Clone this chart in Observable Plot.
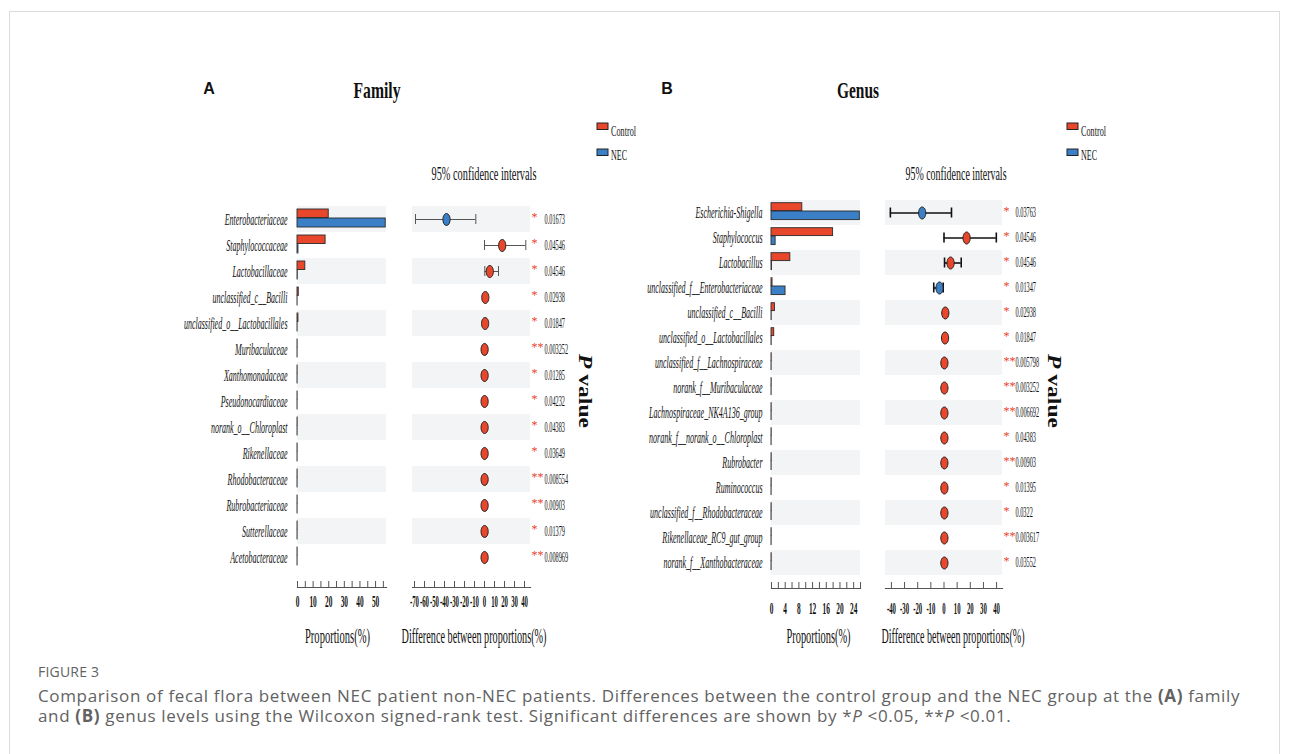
<!DOCTYPE html>
<html><head><meta charset="utf-8">
<script src="https://cdn.jsdelivr.net/npm/d3@7"></script>
<script src="https://cdn.jsdelivr.net/npm/@observablehq/plot@0.6"></script>
<style>
body{margin:0;background:#fff;}
#page{position:relative;width:1290px;height:754px;overflow:hidden;background:#fff;}
#frame{position:absolute;left:9px;top:11px;width:1271px;height:800px;border:1px solid #dcdcdc;box-sizing:border-box;}
.plot{position:absolute;}
.plot svg{overflow:visible;}
#overlay{position:absolute;left:0;top:0;overflow:visible;}
.cap{position:absolute;left:38px;font-family:"Open Sans";color:#626262;white-space:nowrap;}
</style></head><body>
<div id="page">
<div id="frame"></div>
<div id="pA1" class="plot" style="left:180px;top:190px"></div>
<div id="pA2" class="plot" style="left:400px;top:190px"></div>
<div id="pB1" class="plot" style="left:650px;top:180px"></div>
<div id="pB2" class="plot" style="left:875px;top:180px"></div>
<svg id="overlay" width="1290" height="754"></svg>
<div class="cap" style="top:662px;font-size:14px;line-height:20px;letter-spacing:0.2px;">FIGURE 3</div>
<div class="cap" style="top:686px;font-size:17px;line-height:20px;letter-spacing:0.65px;">Comparison of fecal flora between NEC patient non-NEC patients. Differences between the control group and the NEC group at the <b>(A)</b> family<br>and <b>(B)</b> genus levels using the Wilcoxon signed-rank test. Significant differences are shown by *<i>P</i> &lt;0.05, **<i>P</i> &lt;0.01.</div>
</div>
<script>
// ---------------- DATA ----------------
const famNames = ["Enterobacteriaceae","Staphylococcaceae","Lactobacillaceae","unclassified_c__Bacilli","unclassified_o__Lactobacillales","Muribaculaceae","Xanthomonadaceae","Pseudonocardiaceae","norank_o__Chloroplast","Rikenellaceae","Rhodobacteraceae","Rubrobacteriaceae","Sutterellaceae","Acetobacteraceae"];
const famControl = [20, 18, 5, 0.8, 0.6, 0.08, 0.08, 0.08, 0.1, 0.08, 0.08, 0.08, 0.08, 0.08];
const famNEC     = [56.5, 0.6, 0.15, 0.05, 0.05, 0.05, 0.05, 0.05, 0.05, 0.05, 0.05, 0.05, 0.05, 0.05];
const famDiff    = [-38, 17.7, 5.3, 0.8, 0.6, 0.1, 0.1, 0.1, 0.1, 0.1, 0.1, 0.1, 0.1, 0.1];
const famLo      = [-69, 0, 0.3, 0.4, 0.3, 0.05, 0.05, 0.05, 0.05, 0.05, 0.05, 0.05, 0.05, 0.05];
const famHi      = [-8.7, 41.3, 14, 1.2, 0.9, 0.15, 0.15, 0.15, 0.15, 0.15, 0.15, 0.15, 0.15, 0.15];
const famP = ["0.01673","0.04546","0.04546","0.02938","0.01847","0.003252","0.01285","0.04232","0.04383","0.03649","0.008554","0.00903","0.01379","0.008969"];

const genNames = ["Escherichia-Shigella","Staphylococcus","Lactobacillus","unclassified_f__Enterobacteriaceae","unclassified_c__Bacilli","unclassified_o__Lactobacillales","unclassified_f__Lachnospiraceae","norank_f__Muribaculaceae","Lachnospiraceae_NK4A136_group","norank_f__norank_o__Chloroplast","Rubrobacter","Ruminococcus","unclassified_f__Rhodobacteraceae","Rikenellaceae_RC9_gut_group","norank_f__Xanthobacteraceae"];
const genControl = [9, 18, 5.5, 0.3, 1.0, 0.8, 0.05, 0.05, 0.05, 0.05, 0.05, 0.05, 0.05, 0.05, 0.05];
const genNEC     = [25.8, 1.2, 0.15, 4.1, 0.05, 0.05, 0.03, 0.03, 0.03, 0.03, 0.03, 0.03, 0.03, 0.03, 0.03];
const genDiff    = [-16.6, 17.2, 5, -3.4, 1.0, 0.8, 0.3, 0.3, 0.3, 0.3, 0.3, 0.3, 0.3, 0.3, 0.3];
const genLo      = [-40.8, 0, 0.4, -7.8, 0.6, 0.5, 0.2, 0.2, 0.2, 0.2, 0.2, 0.2, 0.2, 0.2, 0.2];
const genHi      = [5.7, 39.8, 13.1, -0.6, 1.4, 1.1, 0.4, 0.4, 0.4, 0.4, 0.4, 0.4, 0.4, 0.4, 0.4];
const genP = ["0.03763","0.04546","0.04546","0.01347","0.02938","0.01847","0.005798","0.003252","0.006692","0.04383","0.00903","0.01395","0.0322","0.003617","0.03552"];

const famPropTicks = [0,5,10,15,20,25,30,35,40,45,50,55];
const famPropLabels = [0,10,20,30,40,50];
const famDiffTicks = [-70,-60,-50,-40,-30,-20,-10,0,10,20,30,40];
const genPropTicks = [0,2,4,6,8,10,12,14,16,18,20,22,24,26];
const genPropLabels = [0,4,8,12,16,20,24];
const genDiffTicks = [-40,-30,-20,-10,0,10,20,30,40];

const groups = ["Control","NEC"];
const colors = ["#e8472c","#3b80c6"];
const shadeColor = "#f3f4f6";

// ---------------- HELPERS ----------------
const ns = "http://www.w3.org/2000/svg";
function condense(svg, sel, f) {
  svg.querySelectorAll(sel).forEach(t => {
    const w = t.getComputedTextLength();
    if (w > 0) { t.setAttribute("textLength", (w * f).toFixed(2)); t.setAttribute("lengthAdjust", "spacingAndGlyphs"); }
  });
}
const ellipse = {
  draw(ctx, size) {
    const r = Math.sqrt(size / Math.PI), rx = r * 0.6, ry = r, k = 0.5523;
    ctx.moveTo(rx, 0);
    ctx.bezierCurveTo(rx, ry * k, rx * k, ry, 0, ry);
    ctx.bezierCurveTo(-rx * k, ry, -rx, ry * k, -rx, 0);
    ctx.bezierCurveTo(-rx, -ry * k, -rx * k, -ry, 0, -ry);
    ctx.bezierCurveTo(rx * k, -ry, rx, -ry * k, rx, 0);
    ctx.closePath();
  }
};
function rowsOf(names, ctl, nec, diff, lo, hi, p) {
  return names.map((name, i) => ({name, control: ctl[i], nec: nec[i], diff: diff[i], lo: lo[i], hi: hi[i], p: p[i], shade: i % 2 === 0}));
}

function barPlot(el, rows, cfg) {
  const plotH = cfg.height - cfg.marginBottom;
  const svg = Plot.plot({
    width: cfg.width, height: cfg.height,
    marginLeft: cfg.marginLeft, marginRight: cfg.marginRight, marginTop: 0, marginBottom: cfg.marginBottom,
    style: {fontFamily: "Liberation Serif", background: "transparent", overflow: "visible"},
    x: {domain: cfg.domain, label: null},
    y: {type: "band", domain: rows.map(d => d.name), range: cfg.yRange, padding: 0, label: null},
    marks: [
      Plot.barX(rows.filter(d => d.shade), {x1: cfg.domain[0], x2: cfg.domain[1], y: "name", fill: shadeColor}),
      Plot.barX(rows, {x: "control", y: "name", fill: colors[0], stroke: "#2a2a2a", strokeWidth: 0.9, insetTop: cfg.redTop, insetBottom: cfg.redBottom}),
      Plot.barX(rows, {x: "nec", y: "name", fill: colors[1], stroke: "#2a2a2a", strokeWidth: 0.9, insetTop: cfg.blueTop, insetBottom: cfg.blueBottom}),
      Plot.gridX({ticks: cfg.tickMarks, insetTop: plotH - 6, stroke: "#555", strokeOpacity: 1, strokeWidth: 1}),
      Plot.frame({anchor: "bottom", stroke: "#555", strokeWidth: 1.2}),
      Plot.axisY({tickSize: 0, tickPadding: cfg.labelPad, fontStyle: "italic", fontSize: 16, fill: "#111", label: null}),
      Plot.axisX({ticks: cfg.tickLabels, tickSize: 0, tickPadding: cfg.xPad, fontSize: 16, fontWeight: "bold", fill: "#111", label: null, tickFormat: d => String(d)})
    ]
  });
  el.appendChild(svg);
  condense(svg, '[aria-label="y-axis tick label"] text', 0.5);
  condense(svg, '[aria-label="x-axis tick label"] text', 0.46);
}

function ciPlot(el, rows, cfg) {
  const plotH = cfg.height - cfg.marginBottom;
  const svg = Plot.plot({
    width: cfg.width, height: cfg.height,
    marginLeft: cfg.marginLeft, marginRight: cfg.marginRight, marginTop: 0, marginBottom: cfg.marginBottom,
    style: {fontFamily: "Liberation Serif", background: "transparent", overflow: "visible"},
    x: {domain: cfg.domain, label: null},
    y: {type: "band", domain: rows.map(d => d.name), range: cfg.yRange, padding: 0, axis: null, label: null},
    marks: [
      Plot.barX(rows.filter(d => d.shade), {x1: cfg.domain[0], x2: cfg.domain[1], y: "name", fill: shadeColor}),
      Plot.ruleX(rows, {x: 0, y: "name", stroke: "#999", strokeDasharray: "5,4", strokeWidth: 1}),
      Plot.ruleY(rows, {y: "name", x1: "lo", x2: "hi", stroke: cfg.errColor, strokeWidth: cfg.errWidth}),
      Plot.tickX(rows, {x: "lo", y: "name", insetTop: cfg.capInset, insetBottom: cfg.capInset, stroke: cfg.errColor, strokeWidth: cfg.errWidth}),
      Plot.tickX(rows, {x: "hi", y: "name", insetTop: cfg.capInset, insetBottom: cfg.capInset, stroke: cfg.errColor, strokeWidth: cfg.errWidth}),
      Plot.dot(rows, {x: "diff", y: "name", r: 6, symbol: ellipse, fill: d => d.diff < 0 ? colors[1] : colors[0], stroke: "#222", strokeWidth: 1}),
      Plot.text(rows, {x: cfg.domain[1], y: "name", text: d => (+d.p < 0.01 ? "**" : "*"), textAnchor: "start", dx: cfg.starDx, dy: -2, fill: "#e8412d", fontSize: 12, className: "stars"}),
      Plot.text(rows, {x: cfg.domain[1], y: "name", text: "p", textAnchor: "start", dx: cfg.pDx, fontSize: 14, fill: "#111", className: "pvalue"}),
      Plot.gridX({ticks: cfg.tickMarks, insetTop: plotH - 6, stroke: "#555", strokeOpacity: 1, strokeWidth: 1}),
      Plot.frame({anchor: "bottom", stroke: "#555", strokeWidth: 1.2}),
      Plot.axisX({ticks: cfg.tickMarks, tickSize: 0, tickPadding: cfg.xPad, fontSize: 16, fontWeight: "bold", fill: "#111", label: null, tickFormat: d => String(d)})
    ]
  });
  el.appendChild(svg);
  condense(svg, '[aria-label="x-axis tick label"] text', 0.42);
  condense(svg, '.pvalue text, text.pvalue', 0.45);
}

// ---------------- PLOTS ----------------
const famRows = rowsOf(famNames, famControl, famNEC, famDiff, famLo, famHi, famP);
const genRows = rowsOf(genNames, genControl, genNEC, genDiff, genLo, genHi, genP);

barPlot(document.getElementById("pA1"), famRows, {
  width: 215, height: 430, marginLeft: 117, marginRight: 9, marginBottom: 33,
  domain: [0, 57], yRange: [10.6, 386.4], tickMarks: famPropTicks, tickLabels: famPropLabels,
  labelPad: 10, xPad: 8, redTop: 3, redBottom: 14.5, blueTop: 12, blueBottom: 5
});
ciPlot(document.getElementById("pA2"), famRows, {
  width: 190, height: 430, marginLeft: 12, marginRight: 60, marginBottom: 33,
  domain: [-72, 46], yRange: [10.6, 386.4], tickMarks: famDiffTicks, xPad: 8,
  errColor: "#555", errWidth: 1, capInset: 8, starDx: 1, pDx: 14
});
barPlot(document.getElementById("pB1"), genRows, {
  width: 220, height: 440, marginLeft: 121, marginRight: 10, marginBottom: 32,
  domain: [0, 26], yRange: [17.3, 397.7], tickMarks: genPropTicks, tickLabels: genPropLabels,
  labelPad: 9, xPad: 14, redTop: 2.7, redBottom: 14.4, blueTop: 11, blueBottom: 5.4
});
ciPlot(document.getElementById("pB2"), genRows, {
  width: 200, height: 440, marginLeft: 10, marginRight: 73, marginBottom: 32,
  domain: [-44.5, 44.5], yRange: [17.3, 397.7], tickMarks: genDiffTicks, xPad: 14,
  errColor: "#111", errWidth: 1.6, capInset: 7.5, starDx: 1, pDx: 13
});

// ---------------- OVERLAY TEXT ----------------
const ov = document.getElementById("overlay");
function addText({x, y, text, size, weight = "normal", style = "normal", anchor = "middle", family = "Liberation Serif", fill = "#111", width = null, rotate = 0}) {
  const t = document.createElementNS(ns, "text");
  t.setAttribute("x", x); t.setAttribute("y", y);
  t.setAttribute("text-anchor", anchor);
  t.setAttribute("dominant-baseline", "central");
  t.setAttribute("font-family", family);
  t.setAttribute("font-size", size);
  t.setAttribute("font-weight", weight);
  t.setAttribute("font-style", style);
  t.setAttribute("fill", fill);
  if (rotate) t.setAttribute("transform", `rotate(${rotate},${x},${y})`);
  if (Array.isArray(text)) {
    text.forEach(([s, st]) => { const sp = document.createElementNS(ns, "tspan"); sp.textContent = s; if (st) sp.setAttribute("font-style", st); t.appendChild(sp); });
  } else t.textContent = text;
  if (width) { t.setAttribute("textLength", width); t.setAttribute("lengthAdjust", "spacingAndGlyphs"); }
  ov.appendChild(t);
}
function addRect(x, y, w, h, fill) {
  const r = document.createElementNS(ns, "rect");
  r.setAttribute("x", x); r.setAttribute("y", y); r.setAttribute("width", w); r.setAttribute("height", h);
  r.setAttribute("fill", fill); r.setAttribute("stroke", "#222"); r.setAttribute("stroke-width", 1);
  ov.appendChild(r);
}

const panels = [
  {letter: "A", lx: 209, title: "Family", tx: 377, tw: 47, ci: 484, ciw: 105, prop: 337.5, propw: 65, diff: 474, diffw: 145, leg: 597, pv: 586},
  {letter: "B", lx: 667, title: "Genus", tx: 858, tw: 42, ci: 956, ciw: 101, prop: 818.5, propw: 64, diff: 953, diffw: 143, leg: 1067, pv: 1055}
];
panels.forEach(p => {
  addText({x: p.lx, y: 88, text: p.letter, size: 16, weight: "bold", family: "Liberation Sans"});
  addText({x: p.tx, y: 90, text: p.title, size: 23, weight: "bold", width: p.tw});
  addText({x: p.ci, y: 173, text: "95% confidence intervals", size: 19, width: p.ciw});
  addText({x: p.prop, y: 636, text: "Proportions(%)", size: 21, width: p.propw});
  addText({x: p.diff, y: 636, text: "Difference between proportions(%)", size: 21, width: p.diffw});
  groups.forEach((g, i) => {
    addRect(p.leg, 123 + i * 26, 11, 6.5, colors[i]);
    addText({x: p.leg + 14, y: 131 + i * 24, text: g, size: 15, anchor: "start", width: g === "Control" ? 25 : 16});
  });
  addText({x: p.pv, y: 391, text: [["P", "italic"], [" value", null]], size: 19, weight: "bold", width: 74, rotate: 90});
});
</script>
</body></html>
